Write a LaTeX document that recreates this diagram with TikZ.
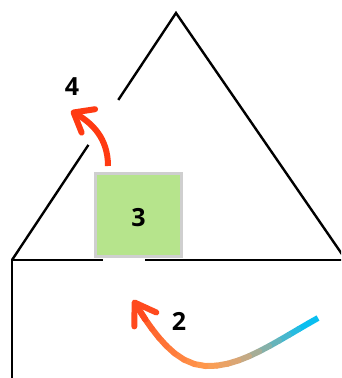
\documentclass[tikz,border=0pt]{standalone}
\usepackage{fontspec}
\setmainfont{Open Sans}
\usetikzlibrary{arrows.meta, calc, decorations.markings}

\definecolor{boxgreen}{HTML}{B6E48C}
\definecolor{boxgray}{HTML}{CFCFCF}
\definecolor{arrowred}{HTML}{FF3A12}
\definecolor{gradcyan}{HTML}{0ABEF0}
\definecolor{gradtan}{HTML}{D4A87C}
\definecolor{gradorange}{HTML}{FF9C4E}
\definecolor{gradred}{HTML}{FF4A1E}

\begin{document}
\begin{tikzpicture}[x=1pt, y=-1pt,
    edge/.style={line width=2.4pt},
    numlabel/.style={font=\fontsize{25}{25}\selectfont\bfseries},
    gradpiece/.style={line width=6pt, line cap=round}]
    \useasboundingbox (0,0) rectangle (341,378);
    \clip (0,0) rectangle (341,378);

    % roof and wall
    \coordinate (apex) at (176,13);
    \coordinate (bl) at (12,260);
    \coordinate (br) at (346,260);
    \coordinate (floor) at (12,385);
    \coordinate (gapl) at (103,260);
    \coordinate (gapr) at (145,260);
    \draw[edge] (bl) -- ($(bl)!0.466!(apex)$);
    \draw[edge] ($(bl)!0.648!(apex)$) -- (apex) -- (br);
    \draw[edge] (floor) -- (bl) -- (gapl);
    \draw[edge] (gapr) -- (br);

    % box 3
    \node[draw=boxgray, fill=boxgreen, line width=3pt, minimum width=86pt,
          minimum height=83pt, inner sep=0pt] (box) at (138.5,215) {};
    \node[numlabel] (n3) at (138.5,218) {3};

    % arrow 4
    \coordinate (a4s) at (108,166);
    \coordinate (a4e) at (71,111);
    \draw[line width=6pt, arrowred, -{Straight Barb[round, length=17pt, width=27pt]}]
        (a4s) .. controls (108,138) and (92,123) .. (a4e);
    \node[numlabel] (n4) at (72,87) {4};

    % arrow 2 (colour runs along the curve)
    \coordinate (a2s) at (318,318);
    \coordinate (a2m) at (205,366);
    \coordinate (a2e) at (133,300);
    \path[decorate, decoration={markings,
        mark=between positions 0 and 1 step 0.0499 with
        {\coordinate (g\pgfkeysvalueof{/pgf/decoration/mark info/sequence number});}}]
        (a2s) .. controls (275,342) and (240,368) .. (a2m)
              .. controls (180,364) and (160,345) .. (a2e);
    \draw[line width=6pt, gradcyan] (g1) -- (g2);
    \foreach \i [count=\j from 3] in {2,...,19}{
        \pgfmathsetmacro\t{(\i-0.5)/20}
        \ifdim\t pt<0.4pt
            \pgfmathsetmacro\p{max(0,(\t-0.08)/0.32*100)}
            \colorlet{segc}{gradtan!\p!gradcyan}
        \else\ifdim\t pt<0.55pt
            \pgfmathsetmacro\p{(\t-0.4)/0.15*100}
            \colorlet{segc}{gradorange!\p!gradtan}
        \else
            \pgfmathsetmacro\p{(\t-0.55)/0.45*100}
            \colorlet{segc}{gradred!\p!gradorange}
        \fi\fi
        \draw[gradpiece, segc] (g\i) -- (g\j);
    }
    \draw[gradpiece, gradred, -{Straight Barb[round, length=20pt, width=26pt]}] (g19) -- (a2e);
    \node[numlabel] (n2) at (179,321) {2};
\end{tikzpicture}
\end{document}
